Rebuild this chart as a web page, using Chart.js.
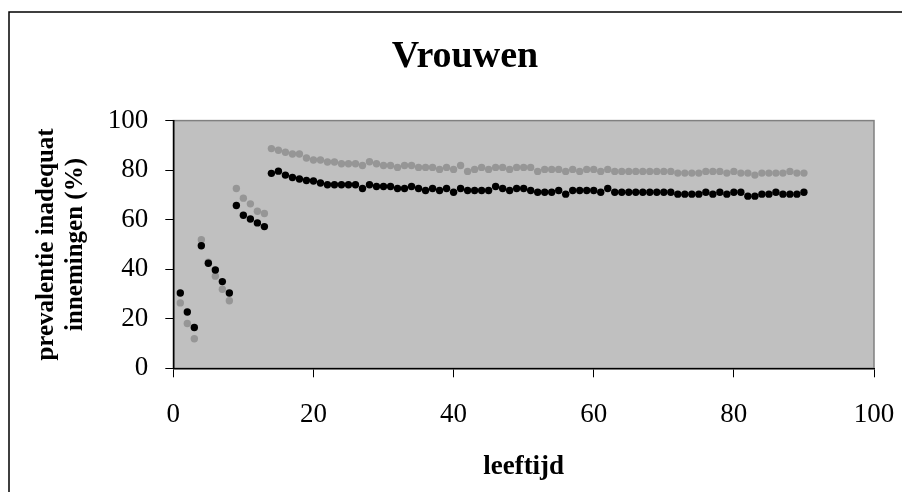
<!DOCTYPE html>
<html>
<head>
<meta charset="utf-8">
<title>Vrouwen</title>
<script src="https://cdn.jsdelivr.net/npm/chart.js@4/dist/chart.umd.min.js"></script>
<style>
  body { margin: 0; background: #fff; }
  #wrap { width: 902px; height: 492px; }
</style>
</head>
<body>
<div id="wrap"><canvas id="prevChart" width="902" height="492"></canvas></div>
<script>
// leeftijd (jaren)
const ages = [
   1,  2,  3,  4,  5,  6,  7,  8,  9, 10, 11, 12, 13, 14, 15, 16, 17, 18,
  19, 20, 21, 22, 23, 24, 25, 26, 27, 28, 29, 30, 31, 32, 33, 34, 35, 36,
  37, 38, 39, 40, 41, 42, 43, 44, 45, 46, 47, 48, 49, 50, 51, 52, 53, 54,
  55, 56, 57, 58, 59, 60, 61, 62, 63, 64, 65, 66, 67, 68, 69, 70, 71, 72,
  73, 74, 75, 76, 77, 78, 79, 80, 81, 82, 83, 84, 85, 86, 87, 88, 89, 90
];

// prevalentie (%) - zwarte reeks
const blackValues = [
  30.4, 22.7, 16.5, 49.5, 42.4, 39.7, 35.0, 30.4, 65.7, 61.8, 60.3, 58.7, 57.2, 78.7, 79.6, 78.0, 77.0, 76.4,
  75.8, 75.6, 74.8, 74.1, 74.1, 74.1, 74.1, 74.1, 72.6, 74.1, 73.4, 73.4, 73.4, 72.6, 72.6, 73.4, 72.6, 71.8,
  72.6, 71.8, 72.6, 71.1, 72.6, 71.8, 71.8, 71.8, 71.8, 73.4, 72.6, 71.8, 72.6, 72.6, 71.8, 71.1, 71.1, 71.1,
  71.8, 70.3, 71.8, 71.8, 71.8, 71.8, 71.1, 72.6, 71.1, 71.1, 71.1, 71.1, 71.1, 71.1, 71.1, 71.1, 71.1, 70.3,
  70.3, 70.3, 70.3, 71.1, 70.3, 71.1, 70.3, 71.1, 71.1, 69.5, 69.5, 70.3, 70.3, 71.1, 70.3, 70.3, 70.3, 71.1
];

// prevalentie (%) - grijze reeks
const greyValues = [
  26.4, 18.1, 11.9, 51.9, 42.8, 37.2, 31.9, 27.3, 72.6, 68.7, 66.4, 63.4, 62.5, 88.7, 88.0, 87.2, 86.5, 86.5,
  84.9, 84.1, 84.1, 83.3, 83.3, 82.6, 82.6, 82.6, 81.9, 83.4, 82.6, 81.9, 81.9, 81.1, 81.9, 81.9, 81.1, 81.1,
  81.1, 80.3, 81.1, 80.3, 81.9, 79.5, 80.3, 81.1, 80.3, 81.1, 81.1, 80.3, 81.1, 81.1, 81.1, 79.5, 80.3, 80.3,
  80.3, 79.5, 80.3, 79.5, 80.3, 80.3, 79.5, 80.3, 79.5, 79.5, 79.5, 79.5, 79.5, 79.5, 79.5, 79.5, 79.5, 78.8,
  78.8, 78.8, 78.8, 79.5, 79.5, 79.5, 78.8, 79.5, 78.8, 78.8, 78.0, 78.8, 78.8, 78.8, 78.8, 79.5, 78.8, 78.8
];

const axisTicks = [0, 20, 40, 60, 80, 100];

const serif = "'Liberation Serif', 'Times New Roman', serif";

// outer frame + grey plot area
const chartFrame = {
  id: 'chartFrame',
  beforeDraw(chart) {
    const { ctx, chartArea: a } = chart;
    ctx.save();
    ctx.fillStyle = '#fff';
    ctx.fillRect(0, 0, chart.width, chart.height);
    ctx.strokeStyle = '#000';
    ctx.lineWidth = 1.5;
    ctx.beginPath();
    ctx.moveTo(9, chart.height);
    ctx.lineTo(9, 12);
    ctx.lineTo(chart.width, 12);
    ctx.stroke();
    ctx.fillStyle = '#c0c0c0';
    ctx.fillRect(a.left, a.top, a.width, a.height);
    ctx.strokeStyle = '#808080';
    ctx.lineWidth = 1.5;
    ctx.strokeRect(a.left, a.top, a.width, a.height);
    ctx.restore();
  }
};

const toPoints = vals => ages.map((age, i) => ({ x: age, y: vals[i] }));

new Chart(document.getElementById('prevChart'), {
  type: 'scatter',
  data: {
    datasets: [
      {
        label: 'zwart',
        data: toPoints(blackValues),
        backgroundColor: '#000',
        borderWidth: 0,
        pointRadius: 3.7
      },
      {
        label: 'grijs',
        data: toPoints(greyValues),
        backgroundColor: '#969696',
        borderWidth: 0,
        pointRadius: 3.7
      }
    ]
  },
  options: {
    responsive: false,
    animation: false,
    layout: { padding: { left: 28, right: 0, top: 0, bottom: 0 } },
    plugins: {
      legend: { display: false },
      tooltip: { enabled: false },
      title: {
        display: true,
        text: 'Vrouwen',
        color: '#000',
        font: { family: serif, size: 38, weight: 'bold', lineHeight: 1.2 },
        padding: { top: 34, bottom: 41 }
      }
    },
    scales: {
      x: {
        type: 'linear',
        min: 0,
        max: 100,
        afterBuildTicks: s => { s.ticks = axisTicks.map(v => ({ value: v })); },
        afterFit: s => {
          s.height = 123.7;
          // the "100" label may hang into the spacer strip
          s.paddingLeft = 0;
          s.paddingRight = 0;
        },
        grid: { drawOnChartArea: false, color: '#000', tickLength: 9 },
        border: { color: '#000', width: 1.5 },
        ticks: { color: '#000', padding: 21.5, maxRotation: 0, font: { family: serif, size: 27 } },
        title: {
          display: true,
          text: 'leeftijd',
          color: '#000',
          font: { family: serif, size: 27, weight: 'bold', lineHeight: 1.2 },
          padding: { top: 0, bottom: 9 }
        }
      },
      y: {
        min: 0,
        max: 100,
        afterBuildTicks: s => { s.ticks = axisTicks.map(v => ({ value: v })); },
        afterFit: s => { s.width = 145.3; },
        grid: { drawOnChartArea: false, color: '#000', tickLength: 8 },
        border: { color: '#000', width: 1.5 },
        ticks: { color: '#000', padding: 17, font: { family: serif, size: 27 } },
        title: {
          display: true,
          text: ['prevalentie inadequat', 'innemingen (%)'],
          color: '#000',
          font: { family: serif, size: 25, weight: 'bold', lineHeight: 1.16 },
          padding: { top: 4, bottom: 0 }
        }
      },
      // empty strip on the right so the plot stops short of the edge
      ySpacer: {
        type: 'linear',
        position: 'right',
        display: true,
        grid: { display: false },
        border: { display: false },
        ticks: { display: false },
        afterFit: s => { s.width = 28; }
      }
    }
  },
  plugins: [chartFrame]
});
</script>
</body>
</html>
